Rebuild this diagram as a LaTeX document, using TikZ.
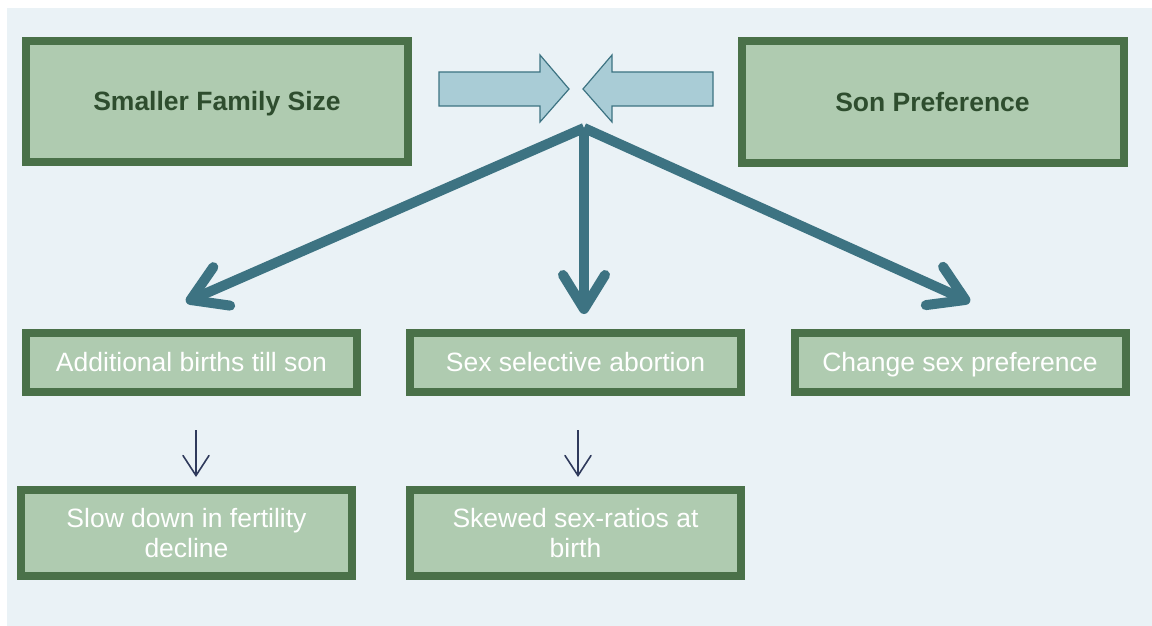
\documentclass[tikz,border=0pt]{standalone}
\usepackage{fontspec}
\setmainfont{Liberation Sans}
\usetikzlibrary{arrows.meta}
\definecolor{bgc}{HTML}{EAF2F6}
\definecolor{boxfill}{HTML}{AFCBB0}
\definecolor{boxline}{HTML}{4A7149}
\definecolor{titletext}{HTML}{2E4D2E}
\definecolor{teal}{HTML}{3D7382}
\definecolor{lightteal}{HTML}{A9CCD6}
\definecolor{navy}{HTML}{2F3A5C}
\tikzset{
  box/.style={draw=boxline, fill=boxfill, line width=8pt, inner sep=0pt, align=center},
  topbox/.style={box, minimum width=382pt, minimum height=121pt, text=titletext, text height=22pt, text depth=4pt, font=\fontsize{26.5}{30}\selectfont\bfseries},
  midbox/.style={box, minimum width=331pt, minimum height=59pt, text=white, text height=22pt, text depth=3.5pt, font=\fontsize{26.5}{30}\selectfont},
  lowbox/.style={box, minimum width=331pt, minimum height=86pt, text=white, font=\fontsize{26.5}{30.5}\selectfont},
  blockarrow/.style={draw=teal, fill=lightteal, line width=1.2pt, line join=miter},
  bigarrow/.style={draw=teal, line width=10pt, -{Straight Barb[length=34pt, width=42pt, line cap=round, line join=round]}},
  smallarrow/.style={draw=navy, line width=1.6pt, -{Straight Barb[length=20pt, width=26pt, line cap=round]}}
}
\begin{document}
\begin{tikzpicture}[x=1pt, y=-1pt]
\useasboundingbox (0,0) rectangle (1152,626);
\fill[white] (0,0) rectangle (1152,626);
\fill[bgc] (7,8) rectangle (1152,626);

\node[topbox] (A) at (217,101.5) {Smaller Family Size};
\node[topbox] (B) at (932.5,102) {Son Preference};

\node[midbox] (C) at (191.5,362) {Additional births till son};
\node[midbox] (D) at (575.5,362) {Sex selective abortion};
\node[midbox] (E) at (960,362) {Change sex preference};

\node[lowbox] (F) at (186.5,533) {Slow down in fertility\\decline};
\node[lowbox] (G) at (575.5,533) {Skewed sex-ratios at\\birth};

% converging block arrows
\draw[blockarrow] (439,72) -- (540,72) -- (540,55) -- (569,89) -- (540,122) -- (540,106) -- (439,106) -- cycle;
\draw[blockarrow] (713,72) -- (612,72) -- (612,55) -- (583,89) -- (612,122) -- (612,106) -- (713,106) -- cycle;

% diverging arrows
\coordinate (hub) at (584,128);
\coordinate (tl) at (186,302);
\coordinate (tm) at (584,314);
\coordinate (tr) at (970,302);
\draw[bigarrow] (hub) -- (tl);
\draw[bigarrow] (hub) -- (tm);
\draw[bigarrow] (hub) -- (tr);

% small arrows
\draw[smallarrow, shorten <=34.5pt, shorten >=9pt] ([xshift=4.5pt]C.south) -- ([xshift=9.5pt]F.north);
\draw[smallarrow, shorten <=34.5pt, shorten >=9pt] ([xshift=2.5pt]D.south) -- ([xshift=2.5pt]G.north);
\end{tikzpicture}
\end{document}
